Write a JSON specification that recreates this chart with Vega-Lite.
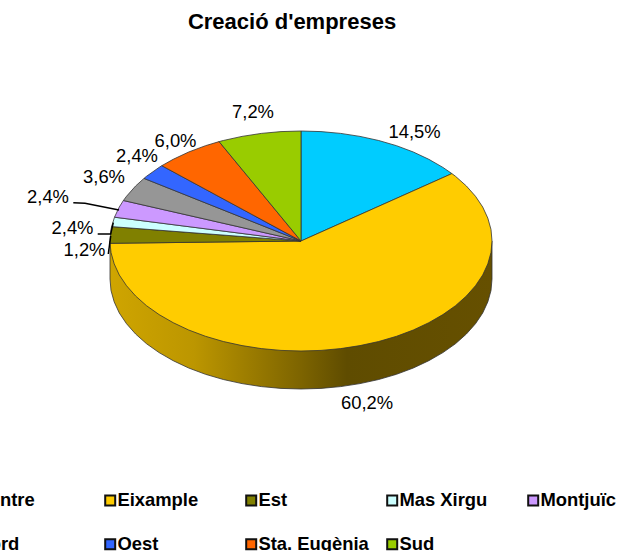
{
"$schema":"https://vega.github.io/schema/vega-lite/v6.json",
"width":618,"height":551,"padding":0,"autosize":{"type":"none"},"background":"white",
"title":{"text":"Creació d'empreses","font":"Liberation Sans","fontSize":22,"fontWeight":"bold","color":"#000000","anchor":"middle","dx":-17,"offset":-34},
"projection":{"type":"identity","reflectY":true,"scale":1,"translate":[301,241]},
"layer":[
{"data":{"values":[{"type":"Feature","properties":{"part":"paret"},"geometry":{"type":"Polygon","coordinates":[[[191,0],[191,-38],[190,-49.5],[186.8,-60.9],[181.7,-72],[174.5,-82.7],[165.4,-93],[154.5,-102.7],[141.9,-111.6],[127.8,-119.7],[112.3,-127],[95.5,-133.3],[77.7,-138.5],[59,-142.6],[39.7,-145.6],[20,-147.4],[0,-148],[-20,-147.4],[-39.7,-145.6],[-59,-142.6],[-77.7,-138.5],[-95.5,-133.3],[-112.3,-127],[-127.8,-119.7],[-141.9,-111.6],[-154.5,-102.7],[-165.4,-93],[-174.5,-82.7],[-181.7,-72],[-186.8,-60.9],[-190,-49.5],[-191,-38],[-191,0],[191,0]]]}}]},
"mark":{"type":"geoshape","filled":true,"stroke":"#333333","strokeWidth":0.8,"fill":{"gradient":"linear","x1":0,"x2":1,"y1":0,"y2":0,"stops":[{"offset":0,"color":"#CFA500"},{"offset":0.22,"color":"#BC9600"},{"offset":0.5,"color":"#7D6400"},{"offset":0.62,"color":"#5F4C00"},{"offset":1,"color":"#665000"}]}}},
{"data":{"values":[
{"type":"Feature","properties":{"slice":"Centre","value":14.5},"geometry":{"type":"Polygon","coordinates":[[[0,0],[0,110],[20,109.4],[39.7,107.6],[59,104.6],[77.7,100.5],[95.5,95.3],[112.3,89],[127.8,81.7],[141.9,73.6],[150.9,67.4],[0,0]]]}},
{"type":"Feature","properties":{"slice":"Eixample","value":60.2},"geometry":{"type":"Polygon","coordinates":[[[0,0],[150.9,67.4],[154.5,64.7],[165.4,55],[174.5,44.7],[181.7,34],[186.8,22.9],[190,11.5],[191,0],[190,-11.5],[186.8,-22.9],[181.7,-34],[174.5,-44.7],[165.4,-55],[154.5,-64.7],[141.9,-73.6],[127.8,-81.7],[112.3,-89],[95.5,-95.3],[77.7,-100.5],[59,-104.6],[39.7,-107.6],[20,-109.4],[0,-110],[-20,-109.4],[-39.7,-107.6],[-59,-104.6],[-77.7,-100.5],[-95.5,-95.3],[-112.3,-89],[-127.8,-81.7],[-141.9,-73.6],[-154.5,-64.7],[-165.4,-55],[-174.5,-44.7],[-181.7,-34],[-186.8,-22.9],[-190,-11.5],[-190.96,-2.3],[0,0]]]}},
{"type":"Feature","properties":{"slice":"Est","value":1.2},"geometry":{"type":"Polygon","coordinates":[[[0,0],[-190.96,-2.3],[-191,0],[-190,11.5],[-189.4,14.4],[0,0]]]}},
{"type":"Feature","properties":{"slice":"Mas Xirgu","value":2.4},"geometry":{"type":"Polygon","coordinates":[[[0,0],[-189.4,14.4],[-186.5,23.8],[0,0]]]}},
{"type":"Feature","properties":{"slice":"Montjuïc","value":2.4},"geometry":{"type":"Polygon","coordinates":[[[0,0],[-186.5,23.8],[-181.7,34],[-177.6,40.5],[0,0]]]}},
{"type":"Feature","properties":{"slice":"Nord","value":3.6},"geometry":{"type":"Polygon","coordinates":[[[0,0],[-177.6,40.5],[-174.5,44.7],[-165.4,55],[-157,62.6],[0,0]]]}},
{"type":"Feature","properties":{"slice":"Oest","value":2.4},"geometry":{"type":"Polygon","coordinates":[[[0,0],[-157,62.6],[-154.5,64.7],[-141.9,73.6],[-139.2,75.3],[0,0]]]}},
{"type":"Feature","properties":{"slice":"Sta. Eugènia","value":6.0},"geometry":{"type":"Polygon","coordinates":[[[0,0],[-139.2,75.3],[-127.8,81.7],[-112.3,89],[-95.5,95.3],[-81.9,99.4],[0,0]]]}},
{"type":"Feature","properties":{"slice":"Sud","value":7.2},"geometry":{"type":"Polygon","coordinates":[[[0,0],[-81.9,99.4],[-77.7,100.5],[-59,104.6],[-39.7,107.6],[-20,109.4],[0,110],[0,0]]]}}
]},
"mark":{"type":"geoshape","filled":true,"stroke":"#333333","strokeWidth":0.8},
"encoding":{"color":{"field":"properties.slice","type":"nominal","title":null,
"scale":{"domain":["Centre","Eixample","Est","Mas Xirgu","Montjuïc","Nord","Oest","Sta. Eugènia","Sud"],"range":["#00CCFF","#FFCC00","#808000","#CCFFFF","#CC99FF","#969696","#3366FF","#FF6600","#99CC00"]},
"legend":{"orient":"none","direction":"horizontal","legendX":-40,"legendY":491,"columns":5,"gridAlign":"all","columnPadding":14,"rowPadding":25,"symbolType":"square","symbolSize":100,"symbolStrokeWidth":2,"symbolStrokeColor":"#111111","symbolOpacity":1,"labelFont":"Liberation Sans","labelFontSize":18.4,"labelFontWeight":"bold","labelColor":"#000000","labelOffset":-2,"labelLimit":200}}}},
{"data":{"values":[
{"serie":"b","ord":1,"lx":-227.7,"ly":38.3},{"serie":"b","ord":2,"lx":-216,"ly":37.7},{"serie":"b","ord":3,"lx":-182,"ly":31},
{"serie":"c","ord":1,"lx":-203.3,"ly":7},{"serie":"c","ord":2,"lx":-190.3,"ly":7},{"serie":"c","ord":3,"lx":-187.7,"ly":18.3},
{"serie":"d","ord":1,"lx":-192.7,"ly":-13},{"serie":"d","ord":2,"lx":-190.3,"ly":5}
]},
"mark":{"type":"line","stroke":"#000000","strokeWidth":1.5},
"encoding":{"longitude":{"field":"lx","type":"quantitative"},"latitude":{"field":"ly","type":"quantitative"},"detail":{"field":"serie"},"order":{"field":"ord","type":"quantitative"}}},
{"data":{"values":[
{"slice":"Centre","label":"14,5%","lx":113.5,"ly":109},
{"slice":"Eixample","label":"60,2%","lx":66,"ly":-162},
{"slice":"Est","label":"1,2%","lx":-216.5,"ly":-9},
{"slice":"Mas Xirgu","label":"2,4%","lx":-228.5,"ly":13},
{"slice":"Montjuïc","label":"2,4%","lx":-253,"ly":44},
{"slice":"Nord","label":"3,6%","lx":-197,"ly":64},
{"slice":"Oest","label":"2,4%","lx":-164,"ly":85},
{"slice":"Sta. Eugènia","label":"6,0%","lx":-125.5,"ly":100},
{"slice":"Sud","label":"7,2%","lx":-48,"ly":129}
]},
"mark":{"type":"text","font":"Liberation Sans","fontSize":18.4,"color":"#000000","align":"center","baseline":"middle"},
"encoding":{"longitude":{"field":"lx","type":"quantitative"},"latitude":{"field":"ly","type":"quantitative"},"text":{"field":"label"}}}
]
}
